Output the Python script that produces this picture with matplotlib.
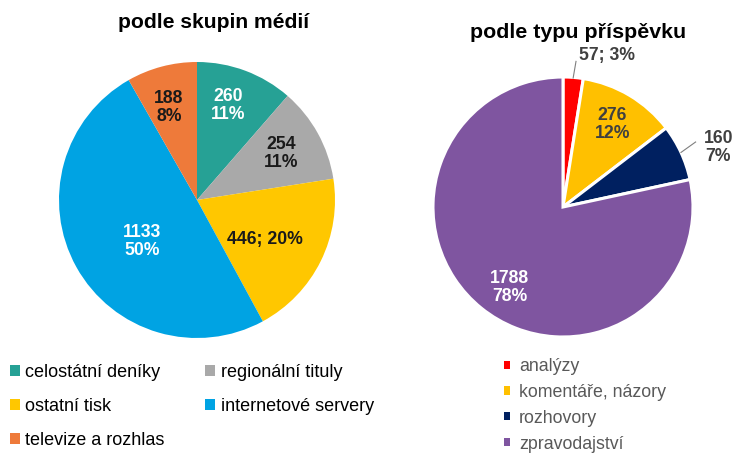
import matplotlib
matplotlib.use("Agg")
import matplotlib.pyplot as plt
import numpy as np
from matplotlib.patches import Patch

plt.rcParams['font.family'] = ['Liberation Sans', 'DejaVu Sans']

# Data
left_title = "podle skupin médií"
left_cats = ["celostátní deníky", "regionální tituly", "ostatní tisk", "internetové servery", "televize a rozhlas"]
left_vals = [260, 254, 446, 1133, 188]
left_pcts = ["11%", "11%", "20%", "50%", "8%"]
left_colors = ["#26A195", "#A9A9A9", "#FFC700", "#00A3E3", "#EE7A3A"]

right_title = "podle typu příspěvku"
right_cats = ["analýzy", "komentáře, názory", "rozhovory", "zpravodajství"]
right_vals = [57, 276, 160, 1788]
right_pcts = ["3%", "12%", "7%", "78%"]
right_colors = ["#FF0000", "#FFC000", "#002060", "#7F55A0"]

W, H = 733, 453
fig = plt.figure(figsize=(W/100, H/100), dpi=100)

def pie_axes(cx, cy, r):
    ax = fig.add_axes([(cx - r)/W, (H - cy - r)/H, 2*r/W, 2*r/H])
    return ax

def fix(ax):
    ax.set_xlim(-1, 1); ax.set_ylim(-1, 1); ax.set_aspect('equal'); ax.axis('off')

LFS = 12.7

# Left pie
axL = pie_axes(197, 200, 138)
wL, _ = axL.pie(left_vals, colors=left_colors, startangle=90, counterclock=False, radius=1,
                wedgeprops=dict(linewidth=0))
fix(axL)
left_lbl = [("{}\n{}", 0.72, "white", 72), ("{}\n{}", 0.70, "#1a1a1a", None),
            ("{}; {}", 0.57, "#1a1a1a", -30.5), ("{}\n{}", 0.50, "white", -143),
            ("{}\n{}", 0.70, "#1a1a1a", 107)]
for w, v, p, (fmt, rf, col, ang) in zip(wL, left_vals, left_pcts, left_lbl):
    a = np.deg2rad((w.theta1 + w.theta2)/2 if ang is None else ang)
    axL.text(rf*np.cos(a), rf*np.sin(a), fmt.format(v, p), ha='center', va='center',
             fontsize=LFS, fontweight='bold', color=col, linespacing=1.1)
fig.text(214/W, 1 - 22/H, left_title, ha='center', va='center', fontsize=15.2, fontweight='bold')

# Right pie
axR = pie_axes(563, 207, 130)
wR, _ = axR.pie(right_vals, colors=right_colors, startangle=90, counterclock=False, radius=1,
                wedgeprops=dict(linewidth=2.2, edgecolor='white'))
fix(axR)
right_lbl = [("{}; {}", 0.0, "#404040", True), ("{}\n{}", 0.74, "#404040", False),
             ("{}\n{}", 0.0, "#404040", True), ("{}\n{}", 0.74, "white", False)]
for w, v, p, (fmt, rf, col, outside) in zip(wR, right_vals, right_pcts, right_lbl):
    a = np.deg2rad((w.theta1 + w.theta2)/2)
    if outside:
        if v == 57:
            tx, ty = 1.22*np.cos(np.deg2rad(74)), 1.21*np.sin(np.deg2rad(74))
            axR.plot([0.995*np.cos(a), 0.10], [0.995*np.sin(a), 1.12], color='#7f7f7f', lw=0.8, clip_on=False)
        else:
            tx, ty = 1.28*np.cos(np.deg2rad(21)), 1.28*np.sin(np.deg2rad(21))
            axR.plot([np.cos(a), 1.02], [np.sin(a), 0.50], color='#7f7f7f', lw=0.8, clip_on=False)
        axR.text(tx, ty, fmt.format(v, p), ha='center', va='center', fontsize=LFS,
                 fontweight='bold', color=col, linespacing=1.1, clip_on=False)
    else:
        if v == 1788:
            a = np.deg2rad(-123.5)
        axR.text(rf*np.cos(a), rf*np.sin(a), fmt.format(v, p), ha='center', va='center',
                 fontsize=LFS, fontweight='bold', color=col, linespacing=1.1)
fig.text(578/W, 1 - 32/H, right_title, ha='center', va='center', fontsize=15.4, fontweight='bold')

# Left legend (row-wise order in 2 columns)
order = [0, 2, 4, 1, 3]
hL = [Patch(facecolor=left_colors[i], edgecolor='none') for i in order]
fig.legend(hL, [left_cats[i] for i in order], ncol=2, loc='upper left',
           bbox_to_anchor=(10/W, 1 - 364/H), frameon=False, fontsize=13,
           handlelength=0.55, handleheight=0.55, handletextpad=0.3, labelspacing=0.95,
           columnspacing=2.25, borderpad=0, borderaxespad=0)

hR = [Patch(facecolor=c, edgecolor='none') for c in right_colors]
legR = fig.legend(hR, right_cats, ncol=1, loc='upper left', bbox_to_anchor=(504/W, 1 - 358/H),
                  frameon=False, fontsize=12.8, handlelength=0.33, handleheight=0.33,
                  handletextpad=0.5, labelspacing=0.5, borderpad=0, borderaxespad=0)
for t in legR.get_texts():
    t.set_color('#595959')

fig.savefig("out.png", dpi=100)
